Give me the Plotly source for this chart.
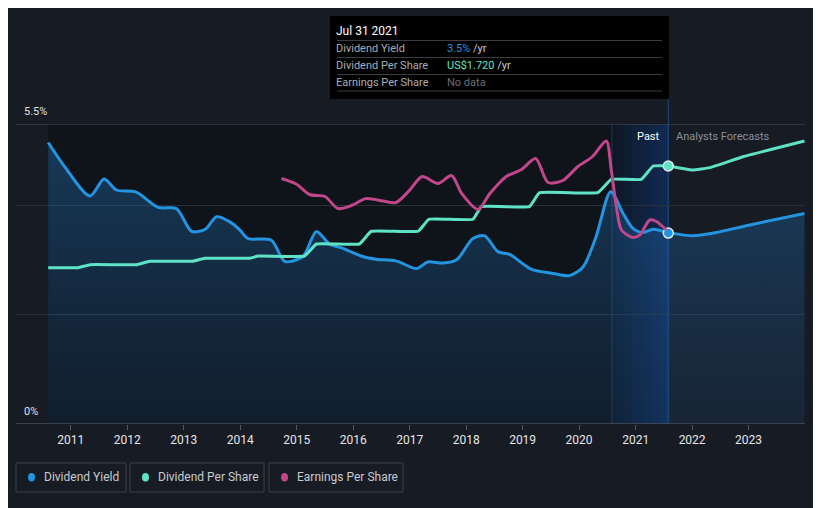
import pandas as pd
import plotly.graph_objects as go

# ---------------- data ----------------
yield_years = [2010.60, 2010.89, 2011.34, 2011.59, 2011.81, 2012.16, 2012.55, 2012.87, 2013.14,
               2013.38, 2013.58, 2013.81, 2013.99, 2014.14, 2014.55, 2014.79, 2015.11, 2015.35,
               2015.58, 2015.82, 2016.17, 2016.41, 2016.76, 2017.12, 2017.32, 2017.59, 2017.83,
               2018.12, 2018.33, 2018.56, 2018.77, 2019.15, 2019.54, 2019.83, 2020.07, 2020.30,
               2020.56, 2020.78, 2020.95, 2021.13, 2021.31, 2021.58]
yield_pct = [5.16, 4.72, 4.18, 4.49, 4.29, 4.25, 3.97, 3.95, 3.53,
             3.57, 3.80, 3.71, 3.56, 3.40, 3.37, 2.98, 3.07, 3.53,
             3.30, 3.22, 3.07, 3.02, 2.99, 2.85, 2.97, 2.95, 3.01,
             3.40, 3.45, 3.16, 3.11, 2.84, 2.76, 2.72, 2.88, 3.43,
             4.26, 3.86, 3.59, 3.51, 3.57, 3.51]
yield_fc_years = [2022.01, 2022.43, 2023.02, 2023.99]
yield_fc_pct = [3.45, 3.51, 3.65, 3.86]

dps_years = [2010.60, 2011.13, 2011.34, 2012.16, 2012.40, 2013.16, 2013.37, 2014.17, 2014.32,
             2015.14, 2015.35, 2016.11, 2016.32, 2017.15, 2017.34, 2018.12, 2018.27, 2019.12,
             2019.30, 2020.33, 2020.57, 2021.10, 2021.31, 2021.58]
dps_usd = [1.042, 1.042, 1.062, 1.062, 1.085, 1.085, 1.105, 1.105, 1.120,
           1.120, 1.200, 1.200, 1.285, 1.285, 1.365, 1.365, 1.449, 1.449,
           1.542, 1.542, 1.631, 1.631, 1.720, 1.720]
dps_fc_years = [2022.01, 2022.31, 2022.90, 2023.99]
dps_fc_usd = [1.693, 1.709, 1.782, 1.887]

eps_years = [2014.73, 2014.99, 2015.23, 2015.50, 2015.73, 2015.97, 2016.23, 2016.53, 2016.76,
             2017.00, 2017.22, 2017.50, 2017.74, 2017.92, 2018.21, 2018.42, 2018.71, 2018.98,
             2019.23, 2019.45, 2019.71, 2019.98, 2020.24, 2020.48, 2020.57, 2020.66, 2020.75,
             2020.95, 2021.07, 2021.25, 2021.37, 2021.54]
eps_usd = [4.91, 4.80, 4.59, 4.55, 4.31, 4.37, 4.51, 4.46, 4.43,
           4.68, 4.95, 4.81, 4.97, 4.61, 4.29, 4.61, 4.95, 5.09,
           5.31, 4.83, 4.87, 5.15, 5.35, 5.66, 5.08, 4.35, 3.88,
           3.73, 3.78, 4.08, 4.05, 3.88]

tick_years = list(range(2011, 2024))
hover_date = "2021-07-31"
hover_yield = 3.5
hover_dps = 1.720

# ---------------- styles ----------------
BG = "#161b24"
PAST_BG = "#0f131a"
C_YIELD = "#2394df"
C_DPS = "#5fe3c6"
C_EPS = "#c2468a"
FONT = "Roboto"


def to_date(y):
    yr = int(y)
    return pd.Timestamp(yr, 1, 1) + pd.Timedelta(days=(y - yr) * 365.25)


def dates(ys):
    return [to_date(y) for y in ys]


# page body has an 8px margin: figure pixel = screen pixel - 8
OFF = 8
W, H = 821, 508
PL, PT, PW, PH = 16, 124, 789, 300   # plot area in screen pixels
ML, MT = PL - OFF, PT - OFF
MR = W - ML - PW
MB = H - MT - PH


def px(x):
    return (x - PL) / PW


def py(y):
    return (PT + PH - y) / PH


fig = go.Figure()

fig.add_trace(go.Scatter(
    x=dates(yield_years + yield_fc_years), y=yield_pct + yield_fc_pct,
    mode="lines", line=dict(color=C_YIELD, width=3, shape="spline", smoothing=0.8),
    fill="tozeroy",
    fillgradient=dict(type="vertical",
                      colorscale=[[0, "rgba(35,110,180,0.12)"], [1, "rgba(35,130,210,0.34)"]]),
    name="Dividend Yield", hoverinfo="skip"))

fig.add_trace(go.Scatter(
    x=dates(dps_years + dps_fc_years), y=dps_usd + dps_fc_usd, yaxis="y2",
    mode="lines", line=dict(color=C_DPS, width=3, shape="spline", smoothing=0.3),
    name="Dividend Per Share", hoverinfo="skip"))

fig.add_trace(go.Scatter(
    x=dates(eps_years), y=eps_usd, yaxis="y3",
    mode="lines", line=dict(color=C_EPS, width=3, shape="spline", smoothing=0.8),
    name="Earnings Per Share", hoverinfo="skip"))

fig.add_trace(go.Scatter(x=[hover_date], y=[hover_yield], mode="markers",
                         marker=dict(size=10, color=C_YIELD, line=dict(color="#dfe6ee", width=1.5)),
                         showlegend=False, hoverinfo="skip"))
fig.add_trace(go.Scatter(x=[hover_date], y=[hover_dps], yaxis="y2", mode="markers",
                         marker=dict(size=10, color=C_DPS, line=dict(color="#dfe6ee", width=1.5)),
                         showlegend=False, hoverinfo="skip"))

shapes = []
shapes.append(dict(type="rect", xref="x", yref="paper", x0=to_date(yield_years[0]), x1=hover_date,
                   y0=0, y1=1, fillcolor=PAST_BG, line=dict(width=0), layer="below"))
band_start = to_date(2020.58)
band_end = pd.Timestamp(hover_date)
n = 14
span = band_end - band_start
for i in range(n):
    a = 0.06 + 0.34 * (i + 1) / n
    shapes.append(dict(type="rect", xref="x", yref="paper",
                       x0=band_start + span * i / n, x1=band_start + span * (i + 1) / n,
                       y0=0, y1=1, fillcolor=f"rgba(18,80,170,{a:.3f})",
                       line=dict(width=0), layer="below"))
shapes.append(dict(type="line", xref="x", yref="paper", x0=band_start, x1=band_start, y0=0, y1=1,
                   line=dict(color="rgba(40,90,160,0.5)", width=1), layer="below"))
shapes.append(dict(type="line", xref="x", yref="paper", x0=hover_date, x1=hover_date, y0=0, y1=py(99),
                   line=dict(color="rgba(40,100,190,0.6)", width=1), layer="below"))
shapes.append(dict(type="line", xref="paper", yref="y", x0=0, x1=1, y0=5.5, y1=5.5,
                   line=dict(color="#4a4f58", width=1)))
shapes.append(dict(type="line", xref="paper", yref="y", x0=0, x1=1, y0=0, y1=0,
                   line=dict(color="#4a4f58", width=1.5)))

shapes.append(dict(type="rect", xref="paper", yref="paper", x0=px(330), x1=px(669), y0=py(99), y1=py(16),
                   fillcolor="#000000", line=dict(width=0)))
for ly in [40.5, 57.5, 74.5, 91]:
    shapes.append(dict(type="line", xref="paper", yref="paper", x0=px(337), x1=px(662), y0=py(ly), y1=py(ly),
                       line=dict(color="#3a3d42", width=1)))

annotations = []


def txt(x, y, s, color, size=11, xanchor="left"):
    annotations.append(dict(xref="paper", yref="paper", x=px(x), y=py(y), text=s,
                            showarrow=False, xanchor=xanchor, yanchor="middle",
                            font=dict(family=FONT, size=size, color=color)))


txt(334, 31, "Jul 31 2021", "#ffffff", 12)
txt(334, 48.5, "Dividend Yield", "#a9adb3")
txt(334, 65.5, "Dividend Per Share", "#a9adb3")
txt(334, 82.5, "Earnings Per Share", "#a9adb3")
txt(445, 48.5, f"<span style='color:{C_YIELD}'>{hover_yield}%</span> /yr", "#c9ccd0")
txt(445, 65.5, f"<span style='color:{C_DPS}'>US${hover_dps:.3f}</span> /yr", "#c9ccd0")
txt(445, 82.5, "No data", "#6b6f75")

txt(22, 112, "5.5%", "#e0e0e0", 11)
txt(22, 411, "0%", "#e0e0e0", 11)

txt(662, 136, "Past", "#ffffff", 11, xanchor="right")
txt(674, 136, "Analysts Forecasts", "#8b9098", 11)

legend_items = [("Dividend Yield", C_YIELD, 16, 126),
                ("Dividend Per Share", C_DPS, 130, 264),
                ("Earnings Per Share", C_EPS, 269, 403)]
for label, col, x0, x1 in legend_items:
    shapes.append(dict(type="rect", xref="paper", yref="paper", x0=px(x0), x1=px(x1), y0=py(492), y1=py(463),
                       fillcolor="rgba(0,0,0,0)", line=dict(color="#3b4049", width=1)))
    shapes.append(dict(type="circle", xref="paper", yref="paper", x0=px(x0 + 12), x1=px(x0 + 19),
                       y0=py(481.5), y1=py(473), fillcolor=col, line=dict(width=0)))
    txt(x0 + 26, 477.5, label, "#c8cbd0", 12)

fig.update_layout(
    width=W, height=H, paper_bgcolor=BG, plot_bgcolor=BG,
    margin=dict(l=ML, r=MR, t=MT, b=MB),
    showlegend=False,
    font=dict(family=FONT, color="#dddddd"),
    xaxis=dict(type="date", range=[to_date(2010.03), to_date(2024.0)],
               tickvals=[pd.Timestamp(y, 1, 1) for y in tick_years],
               ticktext=[str(y) for y in tick_years],
               showgrid=False, zeroline=False, showline=False,
               ticks="outside", ticklen=5, tickcolor="#555a62",
               tickfont=dict(family=FONT, size=12, color="#e6e6e6")),
    yaxis=dict(range=[0, 5.5], tickvals=[2, 4], showticklabels=False,
               gridcolor="#2a2f38", gridwidth=1, zeroline=False, showline=False),
    yaxis2=dict(range=[0, 2.0], overlaying="y", visible=False, showgrid=False),
    yaxis3=dict(range=[0, 6.0], overlaying="y", visible=False, showgrid=False),
    shapes=shapes, annotations=annotations,
)

fig.write_html("out.html")
